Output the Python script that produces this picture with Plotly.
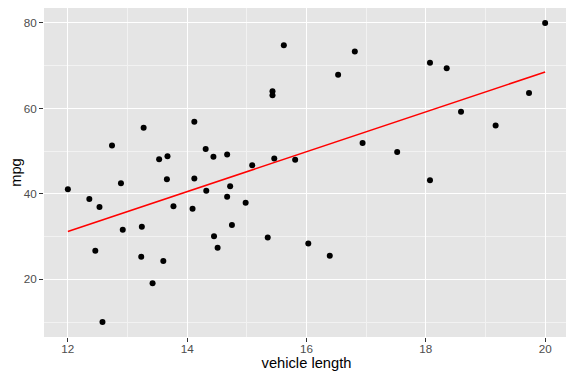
import numpy as np
import plotly.graph_objects as go

vehicle_length = [12.00, 12.36, 12.46, 12.53, 12.58, 12.74, 12.89, 12.92, 13.23, 13.24,
                  13.27, 13.42, 13.53, 13.60, 13.66, 13.67, 13.77, 14.09, 14.12, 14.12,
                  14.31, 14.32, 14.44, 14.45, 14.51, 14.67, 14.67, 14.72, 14.75, 14.98,
                  15.09, 15.35, 15.43, 15.43, 15.46, 15.62, 15.81, 16.03, 16.39, 16.53,
                  16.81, 16.94, 17.52, 18.07, 18.07, 18.35, 18.59, 19.17, 19.73, 20.00]
mpg = [41.1, 38.8, 26.7, 36.9, 10.0, 51.3, 42.5, 31.6, 25.3, 32.3,
       55.5, 19.1, 48.1, 24.3, 43.4, 48.8, 37.1, 36.5, 43.6, 56.9,
       50.5, 40.7, 48.7, 30.1, 27.4, 49.2, 39.3, 41.8, 32.7, 37.9,
       46.7, 29.8, 64.0, 63.1, 48.3, 74.8, 48.0, 28.4, 25.5, 67.9,
       73.3, 51.9, 49.8, 70.7, 43.2, 69.4, 59.2, 56.0, 63.6, 80.0]

x = np.array(vehicle_length)
y = np.array(mpg)
slope, intercept = np.polyfit(x, y, 1)
fit_x = np.linspace(x.min(), x.max(), 80)
fit_y = intercept + slope * fit_x

fig = go.Figure()
fig.add_trace(go.Scatter(x=vehicle_length, y=mpg, mode="markers",
                         marker=dict(color="black", size=6), showlegend=False))
fig.add_trace(go.Scatter(x=fit_x, y=fit_y, mode="lines",
                         line=dict(color="red", width=1.5), showlegend=False))

font_family = "Liberation Sans, Arial, sans-serif"
axis_common = dict(
    showgrid=True, gridcolor="white", gridwidth=1.1,
    zeroline=False, showline=False, automargin=False,
    ticks="outside", ticklen=4, tickwidth=1, tickcolor="#333333",
    tickfont=dict(family=font_family, size=11.7, color="#4D4D4D"),
)
# page body has an 8px default margin, so the figure is sized 8px smaller
fig.update_layout(
    width=566, height=370,
    margin=dict(l=36, r=5, t=0, b=41),
    paper_bgcolor="white", plot_bgcolor="#E5E5E5",
    font=dict(family=font_family),
    xaxis=dict(range=[11.6, 20.4], tickvals=[12, 14, 16, 18, 20], ticklabelstandoff=-3,
               minor=dict(tickvals=[13, 15, 17, 19], showgrid=True, gridcolor="#F2F2F2", gridwidth=0.55, ticks=""),
               title=dict(text="vehicle length", font=dict(size=14.7, color="black"), standoff=1),
               **axis_common),
    yaxis=dict(range=[6.5, 83.5], tickvals=[20, 40, 60, 80],
               minor=dict(tickvals=[10, 30, 50, 70], showgrid=True, gridcolor="#F2F2F2", gridwidth=0.55, ticks=""),
               title=dict(text="mpg", font=dict(size=14.7, color="black"), standoff=5),
               **axis_common),
)
fig.write_html("out.html")
